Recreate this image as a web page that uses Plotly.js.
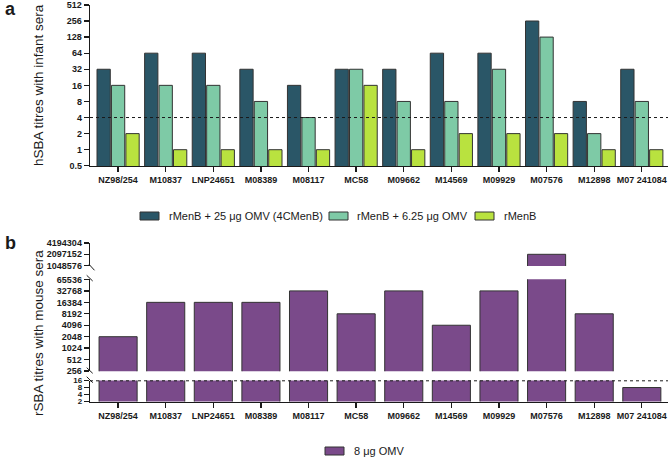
<!DOCTYPE html>
<html><head><meta charset="utf-8">
<script src="https://cdn.plot.ly/plotly-3.0.1.min.js"></script>
<style>html,body{margin:0;padding:0;background:#fff}#chart{width:672px;height:458px}</style>
</head><body><div id="chart"></div>
<script>
// ---- data ----
const strains = ['NZ98/254','M10837','LNP24651','M08389','M08117','MC58','M09662','M14569','M09929','M07576','M12898','M07 241084'];
const omv25 = [32,64,64,32,16,32,32,64,64,256,8,32];
const omv625 = [16,16,16,8,4,32,8,8,32,128,2,8];
const rmenb = [2,1,1,1,1,16,1,2,2,2,1,1];
const mouse8 = [2048,16384,16384,16384,32768,8192,32768,4096,32768,2097152,8192,8];
const hsbaTicks = [0.5,1,2,4,8,16,32,64,128,256,512];
const rsbaTopTicks = [1048576,2097152,4194304];
const rsbaMidTicks = [256,512,1024,2048,4096,8192,16384,32768,65536];
const rsbaLowTicks = [2,4,8,16];
const hsbaThreshold = 4;
const seriesNamesA = ['rMenB + 25 μg OMV (4CMenB)','rMenB + 6.25 μg OMV','rMenB'];
const seriesNameB = '8 μg OMV';

// ---- helpers ----
const W = 672, H = 458;
const px = x => x / W;
const py = y => 1 - y / H;
const FONT = 'Arial, "Liberation Sans", Helvetica, sans-serif';
const INK = '#1a1a1a';
const colA = ['#2a5667','#7ecaa6','#b9e23f'];
const colB = '#7a4a8a';
const lg = v => Math.log10(v);
const EPS = 0.004;

const xdom = [px(90), px(668)];
const xrange = [-0.59, 11.55];

const tickFont = {family: FONT, size: 9, color: INK, weight: 700};

function yAxis(dom, lo, hi, ticks, extra) {
  return Object.assign({
    type: 'log', domain: dom, range: [lg(lo) - EPS, lg(hi) + EPS], anchor: 'x',
    tickvals: ticks, ticktext: ticks.map(String), tickmode: 'array',
    showgrid: false, zeroline: false, showline: true, linecolor: INK, linewidth: 1.3,
    ticks: 'outside', ticklen: 5, tickwidth: 1.3, tickcolor: INK,
    tickfont: tickFont, automargin: false, fixedrange: true
  }, extra || {});
}
function xAxis(anchor) {
  return {
    type: 'category', domain: xdom, range: xrange, anchor: anchor,
    showgrid: false, zeroline: false, showline: true, linecolor: INK, linewidth: 1.3,
    ticks: 'outside', ticklen: 5, tickwidth: 1.3, tickcolor: INK,
    tickfont: tickFont, automargin: false, fixedrange: true
  };
}

const traces = [];
[omv25, omv625, rmenb].forEach((vals, i) => {
  traces.push({
    type: 'bar', x: strains, y: vals, name: seriesNamesA[i],
    xaxis: 'x', yaxis: 'y', showlegend: false,
    marker: {color: colA[i], line: {color: '#333', width: 1}},
    hoverinfo: 'x+y+name'
  });
});
['y2','y3','y4'].forEach((ya, i) => {
  traces.push({
    type: 'bar', x: strains, y: mouse8, name: seriesNameB,
    xaxis: 'x2', yaxis: ya, width: 0.8, showlegend: false,
    marker: {color: colB, line: {color: '#333', width: 1}},
    hoverinfo: 'x+y'
  });
});

// manual legends (wide rectangular swatches like the reference)
const legendA = {swatchX: [140, 329, 475], textX: [167, 355, 502], y: 216};
const legendB = {swatchX: [325], textX: [352], y: 451};
const legShapes = [], legAnns = [];
function addLegend(L, names, colors) {
  names.forEach((nm, i) => {
    legShapes.push({type: 'rect', xref: 'paper', yref: 'paper',
      x0: px(L.swatchX[i]), x1: px(L.swatchX[i] + 19), y0: py(L.y + 4), y1: py(L.y - 4),
      fillcolor: colors[i], line: {color: '#333', width: 1}});
    legAnns.push({text: nm, xref: 'paper', yref: 'paper', x: px(L.textX[i]), y: py(L.y),
      xanchor: 'left', yanchor: 'middle', showarrow: false,
      font: {family: FONT, size: 11, color: INK}});
  });
}
addLegend(legendA, seriesNamesA, colA);
addLegend(legendB, [seriesNameB], [colB]);

const layout = {
  width: W, height: H,
  margin: {l: 0, r: 0, t: 0, b: 0, pad: 0},
  paper_bgcolor: '#fff', plot_bgcolor: 'rgba(0,0,0,0)',
  font: {family: FONT, color: INK},
  barmode: 'group', bargap: 0.09, bargroupgap: 0.08,
  showlegend: false,
  xaxis: xAxis('y'),
  xaxis2: xAxis('y4'),
  yaxis: yAxis([py(166), py(4.7)], 0.5, 512, hsbaTicks, {anchor: 'x'}),
  yaxis2: yAxis([py(265.9), py(242.7)], 1048576, 4194304, rsbaTopTicks, {anchor: 'x2'}),
  yaxis3: yAxis([py(371.2), py(279.3)], 256, 65536, rsbaMidTicks, {anchor: 'x2'}),
  yaxis4: yAxis([py(401.5), py(380.5)], 2, 16, rsbaLowTicks,
    {anchor: 'x2', tickfont: {family: FONT, size: 8, color: INK, weight: 700}}),
  shapes: [
    {type: 'line', xref: 'paper', yref: 'y', x0: px(90), x1: px(668), y0: hsbaThreshold, y1: hsbaThreshold,
     line: {color: INK, width: 1, dash: 'dot'}, layer: 'above'},
    {type: 'line', xref: 'paper', yref: 'paper', x0: px(90), x1: px(668), y0: py(380.8), y1: py(380.8),
     line: {color: INK, width: 1, dash: 'dot'}, layer: 'above'},
    // axis break marks
    {type: 'line', xref: 'paper', yref: 'paper', x0: px(89), y0: py(264.3), x1: px(94.5), y1: py(270.3), line: {color: INK, width: 1}},
    {type: 'line', xref: 'paper', yref: 'paper', x0: px(86.7), y0: py(275.3), x1: px(92.7), y1: py(281), line: {color: INK, width: 1}},
    {type: 'line', xref: 'paper', yref: 'paper', x0: px(86.7), y0: py(367.7), x1: px(92.7), y1: py(373.3), line: {color: INK, width: 1}},
    {type: 'line', xref: 'paper', yref: 'paper', x0: px(86.7), y0: py(376.7), x1: px(92.7), y1: py(382.7), line: {color: INK, width: 1}}
  ].concat(legShapes),
  annotations: [
    {text: '<b>a</b>', xref: 'paper', yref: 'paper', x: px(10), y: py(9), showarrow: false,
     font: {family: FONT, size: 18, color: INK}, xanchor: 'center', yanchor: 'middle'},
    {text: '<b>b</b>', xref: 'paper', yref: 'paper', x: px(10), y: py(243), showarrow: false,
     font: {family: FONT, size: 18, color: INK}, xanchor: 'center', yanchor: 'middle'},
    {text: 'hSBA titres with infant sera', xref: 'paper', yref: 'paper', x: px(39), y: py(85), textangle: -90,
     showarrow: false, font: {family: FONT, size: 13.5, color: INK}, xanchor: 'center', yanchor: 'middle'},
    {text: 'rSBA titres with mouse sera', xref: 'paper', yref: 'paper', x: px(38), y: py(333), textangle: -90,
     showarrow: false, font: {family: FONT, size: 13.5, color: INK}, xanchor: 'center', yanchor: 'middle'}
  ].concat(legAnns)
};

Plotly.newPlot('chart', traces, layout, {displayModeBar: false, staticPlot: true});
</script>
</body></html>
